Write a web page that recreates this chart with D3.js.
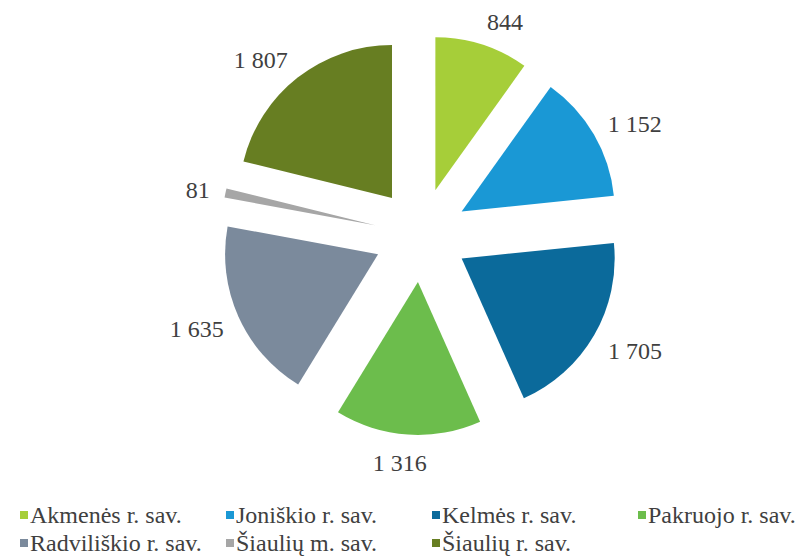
<!DOCTYPE html>
<html>
<head>
<meta charset="utf-8">
<script src="https://cdnjs.cloudflare.com/ajax/libs/d3/7.9.0/d3.min.js"></script>
<style>
  body { margin: 0; background: #fff; }
</style>
</head>
<body>
<div id="chart"></div>
<script>
// Savivaldybės ir reikšmės (iš paveikslo)
const categories = ['Akmenės r. sav.', 'Joniškio r. sav.', 'Kelmės r. sav.', 'Pakruojo r. sav.',
  'Radviliškio r. sav.', 'Šiaulių m. sav.', 'Šiaulių r. sav.'];
const values = [844, 1152, 1705, 1316, 1635, 81, 1807];
const colors = ['#a6ce39', '#1a98d5', '#0b6a9b', '#6cbd4c', '#7b8a9c', '#a6a6a6', '#677e22'];

const width = 807, height = 557;
const cx = 421, cy = 235;     // pie centre
const radius = 153;
const explode = 47;           // slice offset along its bisector
const labelGap = 16;
const fontFamily = "'Liberation Serif', 'Times New Roman', 'DejaVu Serif', serif";

const fmt = v => d3.format(',')(v).replace(/,/g, ' ');

const svg = d3.select('#chart').append('svg')
  .attr('width', width)
  .attr('height', height)
  .style('font-family', fontFamily);

const pie = d3.pie().sort(null).value(d => d.value);
const arc = d3.arc().innerRadius(0).outerRadius(radius);

const data = categories.map((name, i) => ({ name, value: values[i], color: colors[i] }));
const arcs = pie(data);

function dirOf(a) {
  const mid = (a.startAngle + a.endAngle) / 2;
  return [Math.sin(mid), -Math.cos(mid)];
}

const g = svg.append('g').attr('transform', `translate(${cx},${cy})`);

const slice = g.selectAll('g.slice')
  .data(arcs)
  .join('g')
  .attr('class', 'slice')
  .attr('transform', d => {
    const [dx, dy] = dirOf(d);
    return `translate(${dx * explode},${dy * explode})`;
  });

slice.append('path')
  .attr('d', arc)
  .attr('fill', d => d.data.color);

// Labels at the outside end: box edge sits next to the arc point
slice.append('text')
  .attr('font-family', fontFamily)
  .attr('font-size', 24)
  .attr('fill', '#404040')
  .attr('text-anchor', 'middle')
  .text(d => fmt(d.data.value))
  .each(function (d) {
    const [dx, dy] = dirOf(d);
    const w = this.getComputedTextLength();
    const h = 20;
    const side = Math.max(-1, Math.min(1, dx * 4));
    const x = dx * (radius + labelGap) + side * w / 2;
    const y = dy * (radius + labelGap + h / 2) + 2;
    d3.select(this).attr('x', x).attr('y', y).attr('dy', '0.35em');
  });

// Legend
const legendCols = 4, colW = 206, rowH = 28;
const legend = svg.append('g').attr('transform', 'translate(20,515)');
const item = legend.selectAll('g')
  .data(data)
  .join('g')
  .attr('transform', (d, i) => `translate(${(i % legendCols) * colW},${Math.floor(i / legendCols) * rowH})`);

item.append('rect')
  .attr('x', 0).attr('y', -4)
  .attr('width', 8).attr('height', 8)
  .attr('fill', d => d.color);

item.append('text')
  .attr('x', 10)
  .attr('y', 0)
  .attr('dy', '0.33em')
  .attr('font-family', fontFamily)
  .attr('font-size', 24)
  .attr('fill', '#404040')
  .text(d => d.name);
</script>
</body>
</html>
